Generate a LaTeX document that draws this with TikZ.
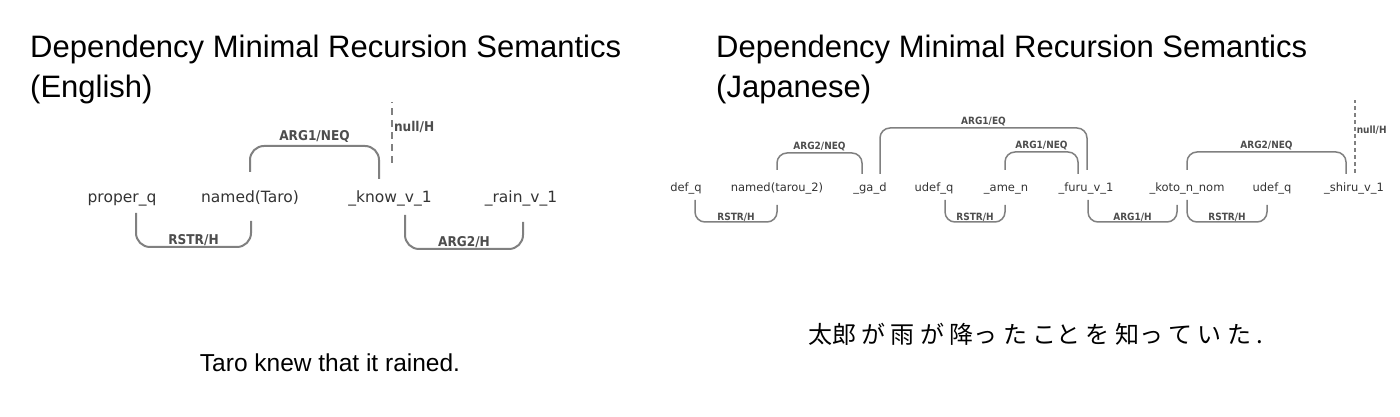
\documentclass[tikz,border=0pt]{standalone}
\usepackage{fontspec}
\setmainfont{Liberation Sans}
\newfontfamily\wordfont{DejaVu Sans}
\newfontfamily\lblfont{DejaVu Sans Condensed}
\newfontfamily\cjk{Noto Sans CJK JP}
\usetikzlibrary{positioning,calc}
\definecolor{Line}{HTML}{808080}
\definecolor{Word}{HTML}{333333}
\definecolor{Lbl}{HTML}{4D4D4D}

\begin{document}
\begin{tikzpicture}[x=1pt,y=1pt,
    title/.style={anchor=base west,inner sep=0pt,font=\fontsize{31}{33}\selectfont},
    word/.style={inner sep=0pt,anchor=base,text=Word,font=\wordfont\fontsize{15.5}{16}\selectfont},
    jword/.style={word,font=\wordfont\fontsize{11.5}{12}\selectfont},
    lbl/.style={inner sep=0pt,anchor=base,text=Lbl,font=\lblfont\bfseries\fontsize{13.5}{14}\selectfont},
    jlbl/.style={lbl,font=\lblfont\bfseries\fontsize{10}{11}\selectfont},
    arc/.style={draw=Line,line width=2pt,rounded corners=14pt},
    jarc/.style={draw=Line,line width=1.5pt,rounded corners=10pt},
    nullarc/.style={draw=Line,line width=2pt,dash pattern=on 7pt off 5pt},
    jnullarc/.style={draw=Line,line width=1.5pt,dash pattern=on 4pt off 3pt}]
  \useasboundingbox (0,0) rectangle (1400,417);
  % titles
  \node[title] (titleE) at (30,359) {Dependency Minimal Recursion Semantics};
  \node[title] (langE) at (30,319.5) {(English)};
  \node[title] (titleJ) at (716,359) {Dependency Minimal Recursion Semantics};
  \node[title] (langJ) at (716,319.5) {(Japanese)};

  % English graph
  \node[word] (proper) at (122,214) {proper\_q};
  \node[word] (taro) at (250,214) {named(Taro)};
  \node[word] (know) at (390,214) {\_know\_v\_1};
  \node[word] (rain) at (521,214) {\_rain\_v\_1};
  \draw[arc] ([yshift=31]taro.base) -- ++(0,26) -| node[lbl,pos=0.25,yshift=5] {ARG1/NEQ} ([xshift=-11,yshift=24]know.base);
  \draw[arc] ([xshift=14,yshift=-10]proper.base) -- ++(0,-34) -| node[lbl,pos=0.25,yshift=2.5] {RSTR/H} ([xshift=1,yshift=-18]taro.base);
  \draw[arc] ([xshift=15,yshift=-12]know.base) -- ++(0,-34) -| node[lbl,pos=0.25,yshift=2.5] {ARG2/H} ([xshift=2,yshift=-19]rain.base);
  \draw[nullarc] ([xshift=2,yshift=40]know.base) -- ++(0,61) node[lbl,pos=0.59,anchor=west,xshift=1] {null/H};
  \node[anchor=base,inner sep=0pt,font=\fontsize{24.5}{26}\selectfont] (sentE) at (330,45.5) {Taro knew that it rained.};

  % Japanese graph
  \node[jword] (defq) at (686,225) {def\_q};
  \node[jword] (tarou) at (777,225) {named(tarou\_2)};
  \node[jword] (ga) at (870,225) {\_ga\_d};
  \node[jword] (udefa) at (934,225) {udef\_q};
  \node[jword] (ame) at (1006,225) {\_ame\_n};
  \node[jword] (furu) at (1086,225) {\_furu\_v\_1};
  \node[jword] (koto) at (1187,225) {\_koto\_n\_nom};
  \node[jword] (udefb) at (1272,225) {udef\_q};
  \node[jword] (shiru) at (1354,225) {\_shiru\_v\_1};
  \draw[jarc] ([yshift=22]tarou.base) -- ++(0,17) -| node[jlbl,pos=0.25,yshift=3] {ARG2/NEQ} ([xshift=-8,yshift=18]ga.base);
  \draw[jarc] ([xshift=10,yshift=18]ga.base) -- ++(0,46) -| node[jlbl,pos=0.25,yshift=3] {ARG1/EQ} ([xshift=1,yshift=22]furu.base);
  \draw[jarc] ([xshift=-1,yshift=22]ame.base) -- ++(0,18) -| node[jlbl,pos=0.25,yshift=3] {ARG1/NEQ} ([xshift=-8,yshift=18]furu.base);
  \draw[jarc] ([yshift=22]koto.base) -- ++(0,18) -| node[jlbl,pos=0.25,yshift=3] {ARG2/NEQ} ([xshift=-8,yshift=18]shiru.base);
  \draw[jnullarc] ([xshift=1,yshift=19]shiru.base) -- ++(0,73) node[jlbl,pos=0.59,anchor=west,xshift=1] {null/H};
  \draw[jarc] ([xshift=9,yshift=-8]defq.base) -- ++(0,-22) -| node[jlbl,pos=0.25,yshift=1] {RSTR/H} ([yshift=-13]tarou.base);
  \draw[jarc] ([xshift=11,yshift=-8]udefa.base) -- ++(0,-22) -| node[jlbl,pos=0.25,yshift=1] {RSTR/H} ([xshift=-1,yshift=-13]ame.base);
  \draw[jarc] ([xshift=2,yshift=-8]furu.base) -- ++(0,-22) -| node[jlbl,pos=0.25,yshift=1] {ARG1/H} ([xshift=-10,yshift=-13]koto.base);
  \draw[jarc] ([yshift=-8]koto.base) -- ++(0,-22) -| node[jlbl,pos=0.25,yshift=1] {RSTR/H} ([xshift=-5,yshift=-13]udefb.base);
  \node[anchor=base west,inner sep=0pt,font=\cjk\fontsize{24}{26}\selectfont] (sentJ) at (808,73) {太郎 が 雨 が 降っ た こと を 知っ て い た .};
\end{tikzpicture}
\end{document}
